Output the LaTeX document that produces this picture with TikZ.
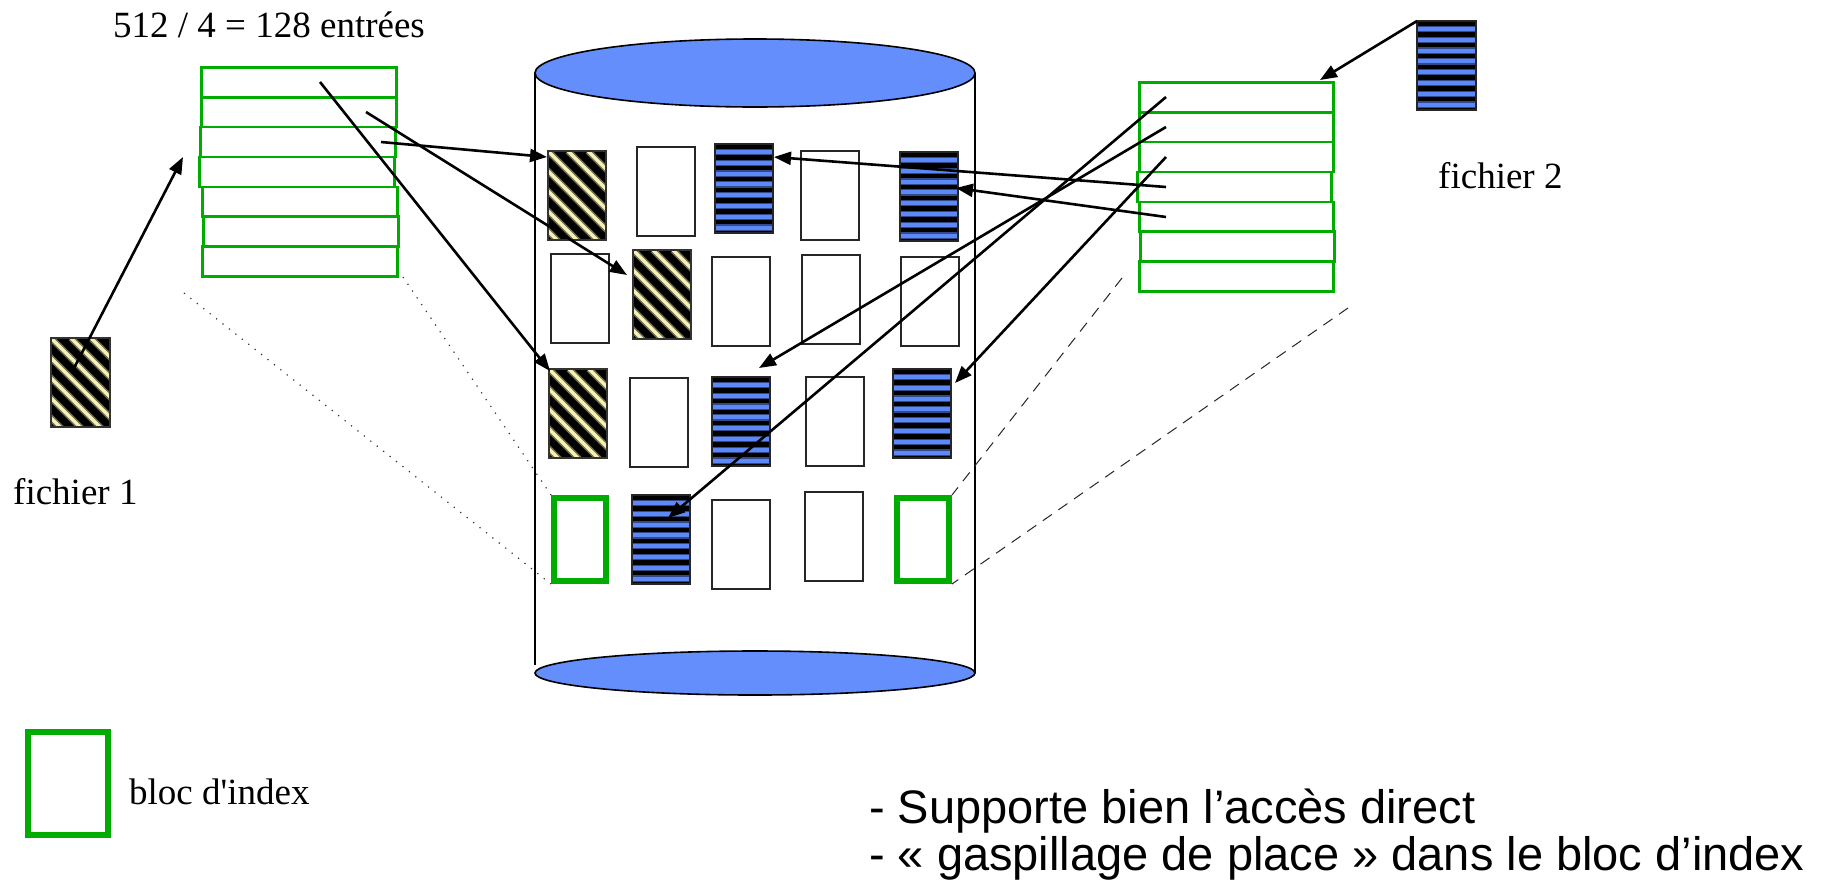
\documentclass[tikz,border=0pt]{standalone}
\usepackage{fontspec}
\setmainfont{Liberation Serif}
\newfontfamily\serifnolig{Liberation Serif}[Ligatures=TeXOff]
\newfontfamily\arialfont{Liberation Sans}
\usetikzlibrary{arrows.meta,calc}
\definecolor{diskblue}{RGB}{99,142,252}
\definecolor{stripeblue}{RGB}{92,137,247}
\definecolor{stripeyellow}{RGB}{246,242,180}
\definecolor{idxgreen}{RGB}{0,172,0}
\begin{document}
\begin{tikzpicture}[x=1pt,y=-1pt,
  blk/.style={rectangle, anchor=north west, inner sep=0pt, outer sep=0pt, minimum width=58pt, minimum height=89pt, line width=1.6pt},
  wblock/.style={blk, draw=black!85, fill=white},
  yblock/.style={blk, draw=black!80, fill=black, path picture={
      \foreach \k in {-6,...,4}{
        \draw[stripeyellow!45!black, line width=6.5pt] ($(path picture bounding box.north west)+({\k*20pt},0pt)$) -- ++(110pt,-110pt);
        \draw[stripeyellow, line width=3.2pt] ($(path picture bounding box.north west)+({\k*20pt},0pt)$) -- ++(110pt,-110pt);
      }}},
  bblock/.style={blk, draw=black!85, fill=black, path picture={
      \foreach \k in {0,...,8}{
        \draw[stripeblue!55!black, line width=6.5pt] ($(path picture bounding box.north west)+(0pt,{-8pt-\k*10.8pt})$) -- ++(70pt,0pt);
        \draw[stripeblue, line width=4pt] ($(path picture bounding box.north west)+(0pt,{-8pt-\k*10.8pt})$) -- ++(70pt,0pt);
      }}},
  gblock/.style={rectangle, anchor=north west, inner sep=0pt, outer sep=3pt, minimum width=52pt, minimum height=83pt, draw=idxgreen, line width=6pt},
  srow/.style={rectangle, anchor=north west, inner sep=0pt, outer sep=0pt, draw=idxgreen, line width=2.7pt, minimum height=29.9pt},
  lrow/.style={srow, minimum width=195.4pt},
  rrow/.style={srow, minimum width=194.4pt},
  conn/.style={line width=2.6pt, -{Triangle[length=17pt,width=13pt]}},
  dotline/.style={line width=1.2pt, black!80, dash pattern=on 1.2pt off 7pt},
  dashline/.style={line width=1pt, black!85, dash pattern=on 11pt off 8pt},
  serif/.style={anchor=base west, inner sep=0pt, font=\fontsize{37}{44}\selectfont},
  sans/.style={anchor=base west, inner sep=0pt, font=\arialfont\fontsize{47}{54}\selectfont}
]
\useasboundingbox (0,0) rectangle (1843,884);
\fill[white] (0,0) rectangle (1843,884);

% cylinder
\fill[white] (535,73) rectangle (975,673);
\draw[line width=1.6pt] (535,73) -- (535,665);
\draw[line width=1.6pt] (975,73) -- (975,673);
\draw[line width=1.6pt, fill=diskblue] (755,73) ellipse [x radius=220, y radius=34];
\draw[line width=1.6pt, fill=diskblue] (755,673) ellipse [x radius=220, y radius=22];

% blocks in the disk
\node[yblock] (A1) at (548,151) {};
\node[wblock] (A2) at (637,147) {};
\node[bblock] (A3) at (715,144) {};
\node[wblock] (A4) at (801,151) {};
\node[bblock] (A5) at (900,152) {};
\node[wblock] (B1) at (551,254) {};
\node[yblock] (B2) at (633,250) {};
\node[wblock] (B3) at (712,257) {};
\node[wblock] (B4) at (802,255) {};
\node[wblock] (B5) at (901,257) {};
\node[yblock] (C1) at (549,369) {};
\node[wblock] (C2) at (630,378) {};
\node[bblock] (C3) at (712,377) {};
\node[wblock] (C4) at (806,377) {};
\node[bblock] (C5) at (893,369) {};
\node[gblock] (D1) at (551,495) {};
\node[bblock] (D2) at (632,495) {};
\node[wblock] (D3) at (712,500) {};
\node[wblock] (D4) at (805,492) {};
\node[gblock] (D5) at (894,495) {};

% file blocks
\node[yblock, minimum width=59pt] (F1) at (51,338) {};
\node[bblock, minimum width=59pt] (F2) at (1417,21) {};

% left index block (expanded)
\node[lrow] (L1) at (201.3,67.3) {};
\node[lrow] (L2) at (201.3,97.2) {};
\node[lrow] (L3) at (200.3,127.1) {};
\node[lrow] (L4) at (199.3,157.0) {};
\node[lrow] (L5) at (202.3,186.9) {};
\node[lrow] (L6) at (203.3,216.8) {};
\node[lrow] (L7) at (202.3,246.7) {};

% right index block (expanded)
\node[rrow] (R1) at (1139.3,82.3) {};
\node[rrow] (R2) at (1139.3,112.2) {};
\node[rrow] (R3) at (1139.3,142.1) {};
\node[rrow] (R4) at (1137.3,172.0) {};
\node[rrow] (R5) at (1139.3,201.9) {};
\node[rrow] (R6) at (1140.3,231.8) {};
\node[rrow] (R7) at (1139.3,261.7) {};

% legend
\node[gblock, minimum width=80pt, minimum height=103pt] (LG) at (25,729) {};

% texts
\node[serif] (t128) at (113,37) {512 / 4 = 128 entrées};
\node[serif] (tf1) at (13,504) {fichier 1};
\node[serif] (tf2) at (1438,188) {fichier 2};
\node[serif] (tbl) at (129,804) {\serifnolig bloc d'index};
\node[sans] (s1) at (869,823) {- Supporte bien l’accès direct};
\node[sans] (s2) at (869,870) {- « gaspillage de place » dans le bloc d’index};

% zoom guide lines
\coordinate (dl1) at (403,277);
\coordinate (dl2) at (184,293);
\draw[dotline] (dl1) -- (D1.north west);
\draw[dotline] (dl2) -- (D1.south west);
\coordinate (dr1) at (1122,278);
\coordinate (dr2) at (1348,308);
\draw[dashline] (dr1) -- (D5.north east);
\draw[dashline] (dr2) -- (D5.south east);

% connector end points
\coordinate (f1s) at (73,370);
\coordinate (f1t) at (183,157);
\coordinate (las) at (320,82);
\coordinate (lat) at (550,371);
\coordinate (lbs) at (366,112);
\coordinate (lbt) at (627,275);
\coordinate (lcs) at (381,142);
\coordinate (lct) at (547,157);
\coordinate (f2s) at (1417,21);
\coordinate (f2t) at (1320,80);
\coordinate (r1s) at (1166,97);
\coordinate (r1t) at (668,518);
\coordinate (r2s) at (1166,127);
\coordinate (r2t) at (759,368);
\coordinate (r3s) at (1166,157);
\coordinate (r3t) at (955,383);
\coordinate (r4s) at (1166,187);
\coordinate (r4t) at (774,157);
\coordinate (r5s) at (1166,217);
\coordinate (r5t) at (956,188);

\draw[conn] (f1s) -- (f1t);
\draw[conn] (las) -- (lat);
\draw[conn] (lbs) -- (lbt);
\draw[conn] (lcs) -- (lct);
\draw[conn] (f2s) -- (f2t);
\draw[conn] (r1s) -- (r1t);
\draw[conn] (r2s) -- (r2t);
\draw[conn] (r3s) -- (r3t);
\draw[conn] (r4s) -- (r4t);
\draw[conn] (r5s) -- (r5t);
\end{tikzpicture}
\end{document}
